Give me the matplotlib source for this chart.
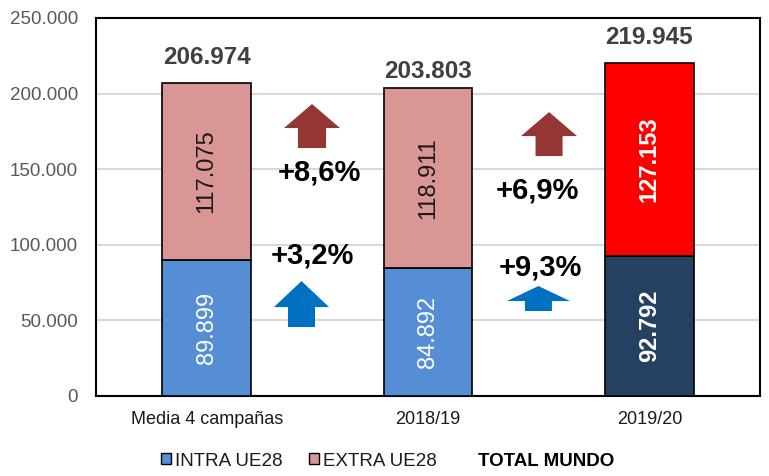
import matplotlib
matplotlib.use('Agg')
import matplotlib.pyplot as plt
from matplotlib.patches import Patch, FancyArrow
import numpy as np

plt.rcParams['font.family'] = ['Liberation Sans', 'DejaVu Sans']

categories = ['Media 4 campañas', '2018/19', '2019/20']
intra = [89899, 84892, 92792]
extra = [117075, 118911, 127153]
totals = [206974, 203803, 219945]
growth_intra = ['+3,2%', '+9,3%']
growth_extra = ['+8,6%', '+6,9%']


def fmt(v):
    return f'{v:,.0f}'.replace(',', '.')


intra_colors = ['#558ED5', '#558ED5', '#254061']
extra_colors = ['#D99694', '#D99694', '#FF0000']
intra_txt = ['white', 'white', 'white']
extra_txt = ['#1a1a1a', '#1a1a1a', 'white']
bold_seg = ['normal', 'normal', 'bold']

fig = plt.figure(figsize=(7.69, 4.76), dpi=100)
ax = fig.add_axes([0.1248, 0.1681, 0.8635, 0.7941])

x = np.arange(len(categories))
ax.bar(x, intra, width=0.4, color=intra_colors, edgecolor='black', linewidth=1.2, zorder=3)
ax.bar(x, extra, width=0.4, bottom=intra, color=extra_colors, edgecolor='black', linewidth=1.2, zorder=3)

for i in range(len(categories)):
    ax.text(x[i], intra[i] / 2, fmt(intra[i]), rotation=90, ha='center', va='center',
            fontsize=17, color=intra_txt[i], fontweight=bold_seg[i], zorder=4)
    ax.text(x[i], intra[i] + extra[i] / 2, fmt(extra[i]), rotation=90, ha='center', va='center',
            fontsize=17, color=extra_txt[i], fontweight=bold_seg[i], zorder=4)

# totals above the bars
offsets = [18.7, 11.5, 18.7]
for i in range(len(categories)):
    ax.annotate(fmt(totals[i]), (x[i], totals[i]), xytext=(0, offsets[i]), textcoords='offset points',
                ha='center', va='center', fontsize=17.5, fontweight='bold', color='#404040')

# growth arrows (x, y_bottom, length, head length, head width, shaft width)
arrows = [
    (0.476, 164000, 29100, 15900, 0.253, 0.127, '#943634'),
    (1.547, 158700, 29100, 15900, 0.253, 0.122, '#943634'),
    (0.4285, 45600, 30400, 17200, 0.249, 0.122, '#0070C0'),
    (1.499, 56200, 16500, 9900, 0.285, 0.122, '#0070C0'),
]
for ax_, y0, dy, hl, hw, w, c in arrows:
    ax.add_patch(FancyArrow(ax_, y0, 0, dy, width=w, head_width=hw, head_length=hl,
                            length_includes_head=True, color=c, linewidth=0, zorder=3))

txt_pos_extra = [(0.508, 148100), (1.493, 136200)]
txt_pos_intra = [(0.476, 92600), (1.506, 84700)]
for (px, py), t in zip(txt_pos_extra, growth_extra):
    ax.text(px, py, t, ha='center', va='center', fontsize=21, fontweight='bold', color='black', zorder=4)
for (px, py), t in zip(txt_pos_intra, growth_intra):
    ax.text(px, py, t, ha='center', va='center', fontsize=21, fontweight='bold', color='black', zorder=4)

ax.set_xlim(-0.5, 2.5)
ax.set_ylim(0, 250000)
ax.set_yticks(np.arange(0, 250001, 50000))
ax.set_yticklabels([fmt(v) for v in np.arange(0, 250001, 50000)])
ax.set_xticks(x)
ax.set_xticklabels(categories)
ax.tick_params(axis='y', length=0, pad=13, labelsize=13.5, labelcolor='#595959')
ax.tick_params(axis='x', length=0, pad=11, labelsize=13, labelcolor='#1a1a1a')
ax.yaxis.grid(True, color='#D9D9D9', linewidth=1.5, zorder=0)
ax.set_axisbelow(True)
for s in ax.spines.values():
    s.set_color('black')
    s.set_linewidth(1.5)

handles = [Patch(facecolor='#558ED5', edgecolor='black', linewidth=1),
           Patch(facecolor='#D99694', edgecolor='black', linewidth=1),
           Patch(facecolor='none', edgecolor='none')]
leg = fig.legend(handles, ['INTRA UE28', 'EXTRA UE28', 'TOTAL MUNDO'], loc='center',
                 bbox_to_anchor=(0.504, 0.0315), ncol=3, frameon=False, fontsize=13.5,
                 handlelength=0.53, handleheight=0.53, handletextpad=0.21, columnspacing=1.44)
for t in leg.get_texts():
    t.set_color('#1a1a1a')
leg.get_texts()[2].set_fontweight('bold')
leg.get_texts()[2].set_color('black')

fig.savefig('out.png', dpi=100)
